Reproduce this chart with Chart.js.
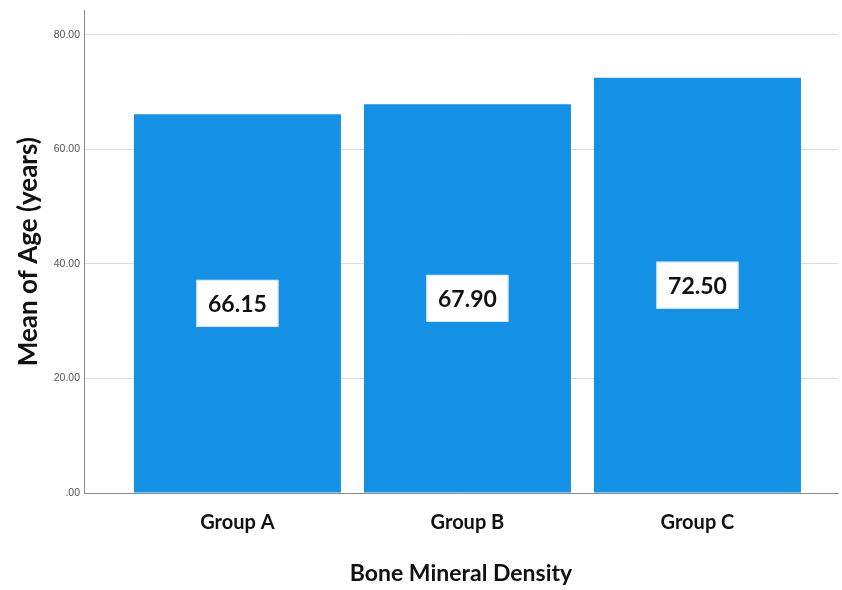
<!DOCTYPE html>
<html>
<head>
<meta charset="utf-8">
<script src="https://cdn.jsdelivr.net/npm/chart.js@4/dist/chart.umd.min.js"></script>
<style>
  html, body { margin: 0; padding: 0; background: #fff; }
  #wrap { width: 842px; height: 590px; }
</style>
</head>
<body>
<div id="wrap"><canvas id="bmdChart" width="842" height="590"></canvas></div>
<script>
const groups = ["Group A", "Group B", "Group C"];
const meanAge = [66.15, 67.90, 72.50];
const yTicks = [0, 20, 40, 60, 80];

const BAR_BLUE = "#1490e5";
const LABEL_FONT = "Lato, 'Open Sans', sans-serif";

// white boxes with the mean value, centred halfway up each bar
const valueBoxes = {
  id: "valueBoxes",
  afterDatasetsDraw(chart) {
    const ctx = chart.ctx;
    const meta = chart.getDatasetMeta(0);
    ctx.save();
    meta.data.forEach((bar, i) => {
      const cy = (bar.y + bar.base) / 2;
      const w = 82, h = 47;
      ctx.fillStyle = "#fff";
      ctx.fillRect(bar.x - w / 2, cy - h / 2, w, h);
      ctx.strokeStyle = "#d8e6f2";
      ctx.lineWidth = 1;
      ctx.strokeRect(bar.x - w / 2 + 0.5, cy - h / 2 + 0.5, w - 1, h - 1);
      ctx.fillStyle = "#111";
      ctx.font = `bold 23px ${LABEL_FONT}`;
      ctx.textAlign = "center";
      ctx.textBaseline = "middle";
      ctx.fillText(meanAge[i].toFixed(2), bar.x, cy + 1);
    });
    ctx.restore();
  },
};

new Chart(document.getElementById("bmdChart"), {
  type: "bar",
  data: {
    datasets: [{
      data: groups.map((g, i) => ({ x: i + 1, y: meanAge[i] })),
      backgroundColor: BAR_BLUE,
      borderWidth: 0,
      barPercentage: 0.9,
      categoryPercentage: 1.0,
    }],
  },
  options: {
    responsive: false,
    animation: false,
    layout: { padding: { top: 10, right: 4, left: 0, bottom: 0 } },
    plugins: { legend: { display: false }, tooltip: { enabled: false } },
    scales: {
      x: {
        type: "linear",
        offset: false,
        min: 0.333,
        max: 3.611,
        afterBuildTicks: (scale) => { scale.ticks = groups.map((g, i) => ({ value: i + 1 })); },
        afterFit: (scale) => { scale.height = 97; },
        grid: { display: false, drawTicks: false, offset: false },
        border: { display: true, color: "#8a8a8a", width: 1 },
        ticks: {
          padding: 18,
          color: "#111",
          font: { family: LABEL_FONT, size: 20, weight: "bold" },
          callback: (v) => groups[v - 1],
        },
        title: {
          display: true,
          text: "Bone Mineral Density",
          color: "#111",
          font: { family: LABEL_FONT, size: 23, weight: "bold" },
          padding: { top: 0, bottom: 3 },
        },
      },
      y: {
        min: 0,
        max: 84.3,
        afterBuildTicks: (scale) => { scale.ticks = yTicks.map((v) => ({ value: v })); },
        afterFit: (scale) => { scale.width = 84; },
        grid: { color: "#dcdcdc", drawTicks: false, lineWidth: 1 },
        border: { display: true, color: "#8a8a8a", width: 1 },
        ticks: {
          padding: 4,
          color: "#555",
          font: { family: "'Liberation Sans', Arial, sans-serif", size: 10.5 },
          callback: (v) => v.toFixed(2).replace(/^0/, ""),
        },
        title: {
          display: true,
          text: "Mean of Age (years)",
          color: "#111",
          font: { family: LABEL_FONT, size: 26, weight: "bold" },
          padding: { top: 13, bottom: 0 },
        },
      },
    },
  },
  plugins: [valueBoxes],
});
</script>
</body>
</html>
